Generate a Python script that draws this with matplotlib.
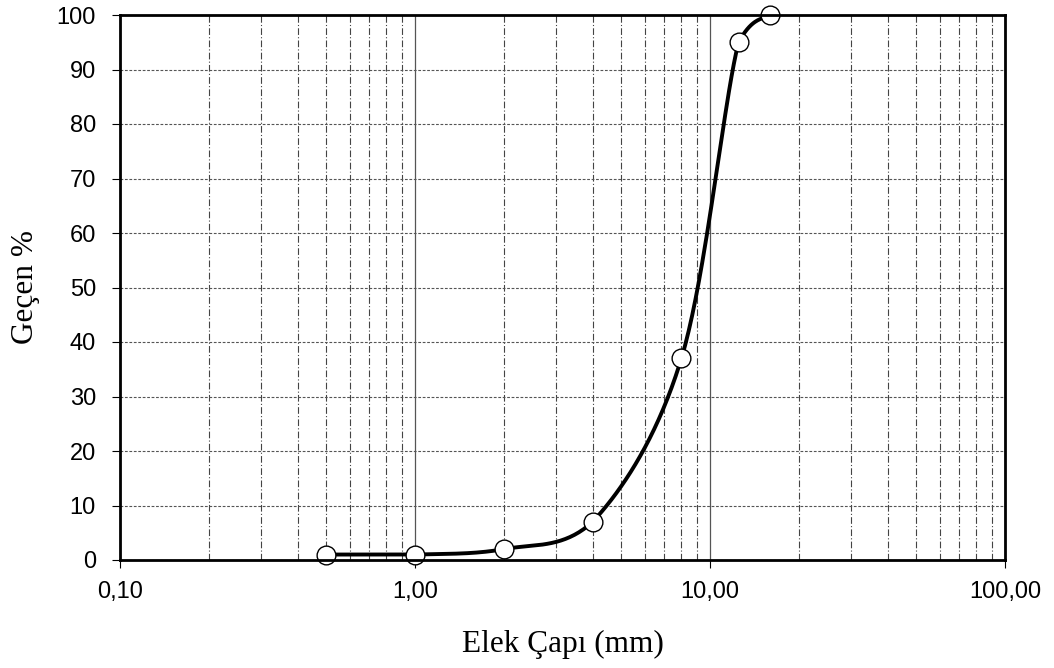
import numpy as np
import matplotlib
matplotlib.use('Agg')
import matplotlib.pyplot as plt
from matplotlib import ticker

# sieve data
sieve_mm = [0.5, 1.0, 2.0, 4.0, 8.0, 12.5, 16.0]
passing = [1, 1, 2, 7, 37, 95, 100]

xtick_vals = [0.1, 1, 10, 100]
xtick_labels = ['0,10', '1,00', '10,00', '100,00']
ytick_vals = list(range(0, 101, 10))

# axes box in pixels (left, right, top, bottom)
L, R, T, B = 120, 1005, 15, 560


def smooth(xs, ys, n=40):
    # Excel-like smoothed line, bezier built in screen space, no overshoot
    px_x = (np.log10(xs) + 1) / 3 * (R - L)
    px_y = np.asarray(ys, float) / 100 * (B - T)
    out_x, out_y = [], []
    m = len(px_x)
    for i in range(m - 1):
        x0, y0 = (px_x[i - 1], px_y[i - 1]) if i > 0 else (px_x[i], px_y[i])
        x1, y1 = px_x[i], px_y[i]
        x2, y2 = px_x[i + 1], px_y[i + 1]
        x3, y3 = (px_x[i + 2], px_y[i + 2]) if i + 2 < m else (x2, y2)
        lo, hi = min(y1, y2), max(y1, y2)
        c1x, c1y = x1 + (x2 - x0) / 6, np.clip(y1 + (y2 - y0) / 6, lo, hi)
        c2x, c2y = x2 - (x3 - x1) / 6, np.clip(y2 - (y3 - y1) / 6, lo, hi)
        t = np.linspace(0, 1, n)
        bx = (1-t)**3*x1 + 3*(1-t)**2*t*c1x + 3*(1-t)*t**2*c2x + t**3*x2
        by = (1-t)**3*y1 + 3*(1-t)**2*t*c1y + 3*(1-t)*t**2*c2y + t**3*y2
        out_x.extend(bx)
        out_y.extend(by)
    out_x = 10 ** (np.array(out_x) / (R - L) * 3 - 1)
    out_y = np.array(out_y) / (B - T) * 100
    return out_x, out_y


fig = plt.figure(figsize=(10.54, 6.68), dpi=100)
ax = fig.add_axes([L/1054, 1 - B/668, (R-L)/1054, (B-T)/668])

ax.set_xscale('log')
ax.set_xlim(0.1, 100)
ax.set_ylim(0, 100)

# grid
ax.xaxis.set_minor_locator(ticker.LogLocator(base=10, subs=np.arange(2, 10)))
ax.grid(which='major', axis='x', color='#555555', linestyle='-', linewidth=0.9)
ax.grid(which='minor', axis='x', color='#444444', linestyle=(0, (6, 2, 1, 2)), linewidth=0.8)
ax.grid(which='major', axis='y', color='#555555', linestyle=(0, (2.5, 1.5)), linewidth=0.8)
ax.set_axisbelow(True)

sx, sy = smooth(sieve_mm, passing)
ax.plot(sx, sy, color='black', linewidth=2.8, zorder=3, clip_on=False)
ax.plot(sieve_mm, passing, linestyle='none', marker='o', markersize=13.5,
        markerfacecolor='white', markeredgecolor='black', markeredgewidth=1.0,
        zorder=4, clip_on=False)

ax.xaxis.set_major_locator(ticker.FixedLocator(xtick_vals))
ax.xaxis.set_major_formatter(ticker.FixedFormatter(xtick_labels))
ax.yaxis.set_major_locator(ticker.FixedLocator(ytick_vals))
ax.tick_params(axis='x', which='minor', length=0)
ax.tick_params(axis='both', which='major', direction='out', length=5.8, width=0.8,
               labelsize=17)
ax.tick_params(axis='x', which='major', pad=9)
ax.tick_params(axis='y', which='major', pad=11.5)
for lbl in ax.get_xticklabels() + ax.get_yticklabels():
    lbl.set_fontfamily('Liberation Sans')

for sp in ax.spines.values():
    sp.set_linewidth(2)
    sp.set_zorder(5)

ax.set_xlabel('Elek Çapı (mm)', fontfamily='Liberation Serif', fontsize=22.5, labelpad=20)
ax.set_ylabel('Geçen %', fontfamily='Liberation Serif', fontsize=22.5, labelpad=12)

fig.savefig('out.png', dpi=100)
